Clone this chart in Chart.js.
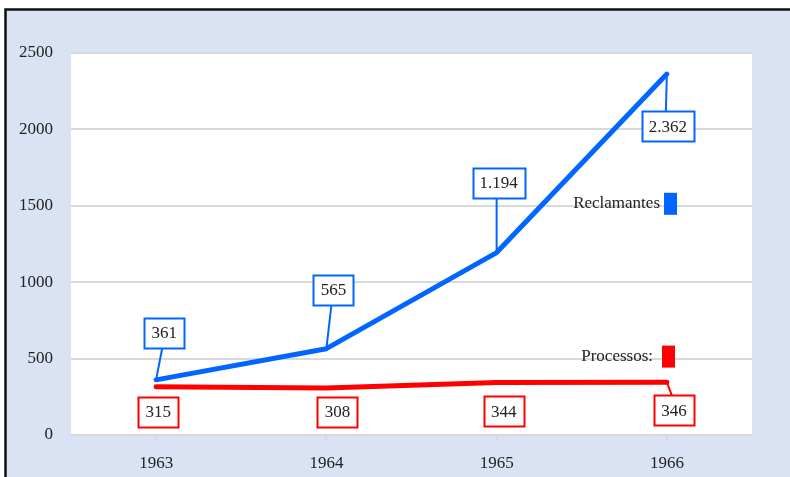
<!DOCTYPE html>
<html>
<head>
<meta charset="utf-8">
<script src="https://cdn.jsdelivr.net/npm/chart.js@4/dist/chart.umd.min.js"></script>
<style>
  html, body { margin: 0; padding: 0; background: #ffffff; }
  #c { display: block; }
</style>
</head>
<body>
<canvas id="c" width="790" height="477"></canvas>
<script>
// ---- data ----
const categories = ['1963', '1964', '1965', '1966'];
const reclamantes = [361, 565, 1194, 2362];
const processos = [315, 308, 344, 346];
const yTicks = [0, 500, 1000, 1500, 2000, 2500];
const seriesNames = ['Reclamantes', 'Processos:'];

// ---- styles ----
const BLUE = '#0066ff';
const RED = '#ff0000';
const FONT = "'Liberation Serif', 'DejaVu Serif', serif";
const TEXT = '#222222';
// label box offsets relative to each point (dx, dy of box centre)
const blueLabelOffsets = [[8, -47], [7, -59], [2, -70], [1, 52]];
const redLabelOffsets = [[2, 25], [11, 24], [7, 29], [7, 28]];
const blueConnectors = [true, true, true, true];
const redConnectors = [false, false, false, true];

function fmt(v) {
  const s = String(v);
  return s.length > 3 ? s.slice(0, s.length - 3) + '.' + s.slice(-3) : s;
}

const bgPlugin = {
  id: 'bg',
  beforeDraw(chart) {
    const ctx = chart.ctx, W = chart.width, H = chart.height, a = chart.chartArea;
    ctx.save();
    ctx.fillStyle = '#ffffff';
    ctx.fillRect(0, 0, W, H);
    ctx.fillStyle = '#dae3f3';
    ctx.fillRect(6, 10, W - 6, H - 10);
    ctx.strokeStyle = '#111111';
    ctx.lineWidth = 2.5;
    ctx.beginPath();
    ctx.moveTo(5.5, H);
    ctx.lineTo(5.5, 9.5);
    ctx.lineTo(W, 9.5);
    ctx.stroke();
    ctx.fillStyle = '#ffffff';
    ctx.fillRect(a.left, a.top, a.right - a.left, a.bottom - a.top);
    ctx.restore();
  }
};

const labelPlugin = {
  id: 'boxLabels',
  afterDatasetsDraw(chart) {
    const ctx = chart.ctx;
    const sets = [
      { idx: 0, color: BLUE, offs: blueLabelOffsets, conn: blueConnectors },
      { idx: 1, color: RED, offs: redLabelOffsets, conn: redConnectors }
    ];
    ctx.save();
    ctx.font = '17px ' + FONT;
    sets.forEach(s => {
      const meta = chart.getDatasetMeta(s.idx);
      const data = chart.data.datasets[s.idx].data;
      meta.data.forEach((pt, i) => {
        const txt = fmt(data[i]);
        const tw = ctx.measureText(txt).width;
        const bw = Math.round(tw + 14), bh = 30;
        const cx = pt.x + s.offs[i][0], cy = pt.y + s.offs[i][1];
        const bx = Math.round(cx - bw / 2) + 0.5, by = Math.round(cy - bh / 2) + 0.5;
        ctx.strokeStyle = s.color;
        ctx.lineWidth = 2;
        if (s.conn[i]) {
          ctx.beginPath();
          ctx.moveTo(pt.x, pt.y);
          const ey = s.offs[i][1] < 0 ? by + bh : by;
          ctx.lineTo(cx - 2, ey);
          ctx.stroke();
        }
        ctx.fillStyle = '#ffffff';
        ctx.fillRect(bx, by, bw, bh);
        ctx.strokeRect(bx, by, bw, bh);
        ctx.fillStyle = TEXT;
        ctx.textAlign = 'center';
        ctx.textBaseline = 'middle';
        ctx.fillText(txt, cx, cy + 1);
      });
    });
    // legend-like markers
    const y = chart.scales.y;
    const legendItems = [
      { name: seriesNames[0], color: BLUE, val: 1500, right: 660, rx: 664 },
      { name: seriesNames[1], color: RED, val: 500, right: 653, rx: 662 }
    ];
    legendItems.forEach(it => {
      const py = y.getPixelForValue(it.val) - 2;
      ctx.fillStyle = TEXT;
      ctx.textAlign = 'right';
      ctx.textBaseline = 'middle';
      ctx.fillText(it.name, it.right, py);
      ctx.fillStyle = it.color;
      ctx.fillRect(it.rx, py - 11, 13, 22);
    });
    ctx.restore();
  }
};

new Chart(document.getElementById('c'), {
  type: 'line',
  data: {
    labels: categories,
    datasets: [
      {
        label: seriesNames[0], data: reclamantes, borderColor: BLUE, backgroundColor: BLUE,
        borderWidth: 5, pointRadius: 0, tension: 0, borderCapStyle: 'round', borderJoinStyle: 'round'
      },
      {
        label: seriesNames[1], data: processos, borderColor: RED, backgroundColor: RED,
        borderWidth: 5, pointRadius: 0, tension: 0, borderCapStyle: 'round', borderJoinStyle: 'round'
      }
    ]
  },
  options: {
    responsive: false,
    devicePixelRatio: 1,
    animation: false,
    layout: { padding: { top: 53, right: 38, left: 0, bottom: 0 } },
    plugins: { legend: { display: false }, tooltip: { enabled: false }, title: { display: false } },
    scales: {
      x: {
        offset: true,
        grid: { drawOnChartArea: false, drawTicks: true, tickLength: 6, color: '#d9d9d9', lineWidth: 2 },
        border: { color: '#d9d9d9', width: 2 },
        ticks: { padding: 12, color: TEXT, font: { family: FONT, size: 17 } },
        afterFit: s => { s.height = 42; }
      },
      y: {
        min: 0, max: 2500,
        afterBuildTicks: s => { s.ticks = yTicks.map(v => ({ value: v })); },
        grid: { color: '#d9d9d9', lineWidth: 2, drawTicks: false },
        border: { display: false },
        ticks: { padding: 18, color: TEXT, font: { family: FONT, size: 17 }, callback: v => String(v) },
        afterFit: s => { s.width = 71; }
      }
    }
  },
  plugins: [bgPlugin, labelPlugin]
});
</script>
</body>
</html>
